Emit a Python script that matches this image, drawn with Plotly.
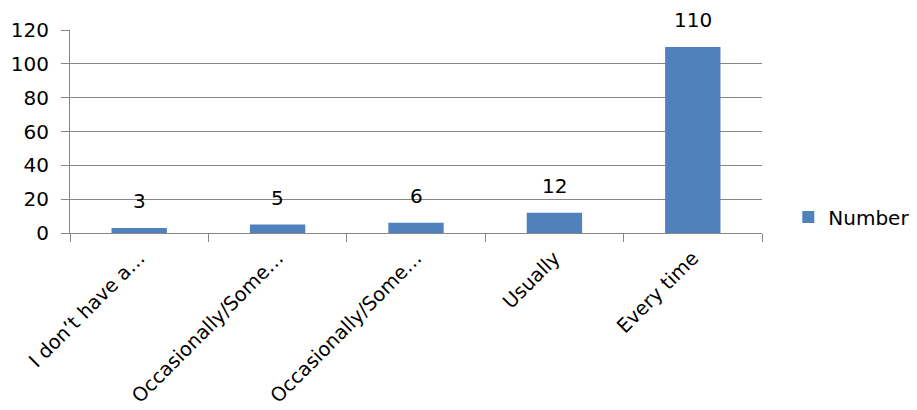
import plotly.graph_objects as go

# Data
category_keys = ["c0", "c1", "c2", "c3", "c4"]
tick_labels = ["I don’t have a…", "Occasionally/Some…", "Occasionally/Some…", "Usually", "Every time"]
values = [3, 5, 6, 12, 110]
series_name = "Number"
y_ticks = [0, 20, 40, 60, 80, 100, 120]

FONT = "DejaVu Sans"
GRID = "#868686"
FS = 20

fig = go.Figure()
fig.add_trace(go.Bar(
    x=category_keys,
    y=values,
    name=series_name,
    marker=dict(color="#4F81BD", line=dict(width=0)),
))

# value labels above bars
for k, v in zip(category_keys, values):
    fig.add_annotation(
        x=k, y=v, text=str(v), showarrow=False,
        yanchor="middle", xanchor="center", yshift=27,
        font=dict(family=FONT, size=FS, color="#000000"),
    )

fig.update_layout(
    width=909,
    height=402,
    margin=dict(l=62, r=155, t=22, b=177, autoexpand=False),
    paper_bgcolor="white",
    plot_bgcolor="white",
    bargap=0.6,
    showlegend=True,
    legend=dict(
        x=1.038, y=0.079, xanchor="left", yanchor="middle",
        font=dict(family=FONT, size=FS, color="#000000"),
        itemwidth=30,
        bgcolor="rgba(0,0,0,0)",
    ),
    font=dict(family=FONT, size=FS, color="#000000"),
)

fig.update_xaxes(
    type="category",
    tickmode="array",
    tickvals=category_keys,
    ticktext=tick_labels,
    tickangle=-45,
    tickson="boundaries",
    ticks="outside",
    ticklen=8,
    tickcolor=GRID,
    showline=True,
    linecolor=GRID,
    linewidth=1,
    showgrid=False,
    automargin=False,
    ticklabelstandoff=5,
    range=[-0.5, 4.5],
    tickfont=dict(family=FONT, size=19.5, color="#000000"),
)

fig.update_yaxes(
    range=[0, 120],
    tickmode="array",
    tickvals=y_ticks,
    ticks="outside",
    ticklen=8,
    tickcolor=GRID,
    showline=True,
    linecolor=GRID,
    linewidth=1,
    showgrid=True,
    gridcolor=GRID,
    gridwidth=1,
    zeroline=False,
    automargin=False,
    ticklabelstandoff=8,
    tickfont=dict(family=FONT, size=FS, color="#000000"),
)

fig.write_html("out.html")
